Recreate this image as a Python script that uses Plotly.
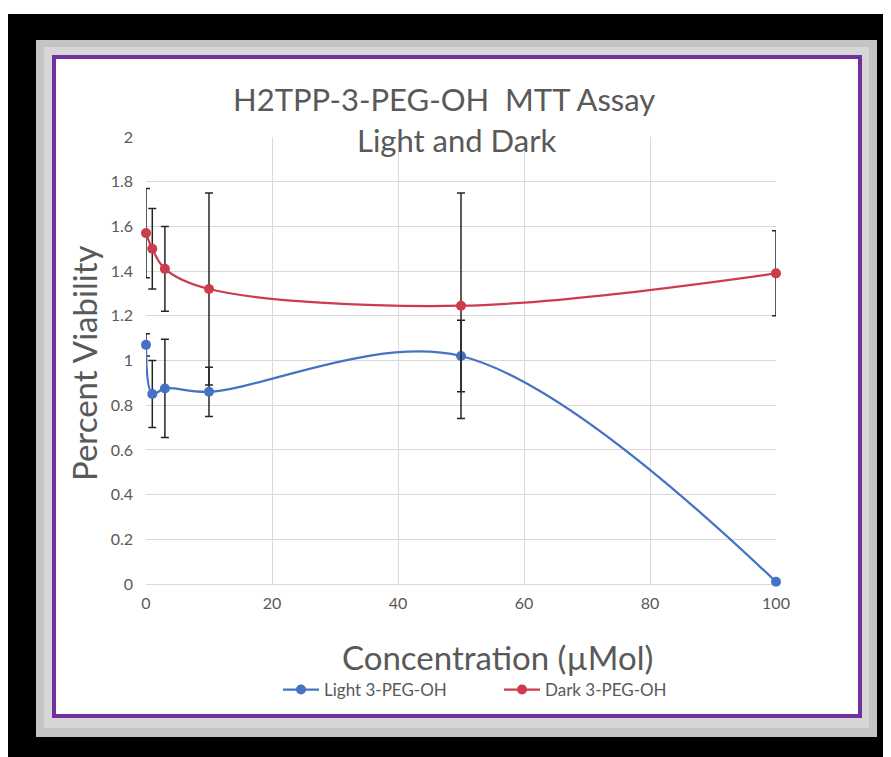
import plotly.graph_objects as go

conc = [0, 1, 3, 10, 50, 100]
light = [1.07, 0.85, 0.875, 0.86, 1.02, 0.01]
light_err = [0.05, 0.15, 0.22, 0.11, 0.16, 0.0]
dark = [1.57, 1.50, 1.41, 1.32, 1.245, 1.39]
dark_err = [0.20, 0.18, 0.19, 0.43, 0.505, 0.19]
x_ticks = [0, 20, 40, 60, 80, 100]
y_ticks = [0, 0.2, 0.4, 0.6, 0.8, 1, 1.2, 1.4, 1.6, 1.8, 2]

OFF = 8  # page body margin
W, H = 891 - OFF, 757 - OFF
L, R, T, B = 146 - OFF, 776 - OFF, 137 - OFF, 584 - OFF
pw, ph = R - L, B - T

def px(x):
    return (x - OFF - L) / pw

def py(y):
    return (B - (y - OFF)) / ph

FONT = "Lato, 'Open Sans', sans-serif"
GREY = "#595959"

fig = go.Figure()
fig.add_trace(go.Scatter(
    x=conc, y=light, name="Light 3-PEG-OH", mode="lines+markers", cliponaxis=False,
    line=dict(color="#4472C4", width=2.25, shape="spline", smoothing=1.0),
    marker=dict(color="#4472C4", size=10),
    error_y=dict(type="data", array=light_err, color="#262626", thickness=1.5, width=4),
))
fig.add_trace(go.Scatter(
    x=conc, y=dark, name="Dark 3-PEG-OH", mode="lines+markers", cliponaxis=False,
    line=dict(color="#CC3B4E", width=2.25, shape="spline", smoothing=1.0),
    marker=dict(color="#CC3B4E", size=10),
    error_y=dict(type="data", array=dark_err, color="#262626", thickness=1.5, width=4),
))

shapes = [
    dict(type="rect", xref="paper", yref="paper", x0=px(0), x1=px(900), y0=py(0), y1=py(14),
         fillcolor="white", line=dict(width=0), layer="below"),
    dict(type="rect", xref="paper", yref="paper", x0=px(36), x1=px(877), y0=py(40), y1=py(737),
         fillcolor="#c4c4c4", line=dict(width=0), layer="below"),
    dict(type="rect", xref="paper", yref="paper", x0=px(44), x1=px(869), y0=py(47), y1=py(728),
         fillcolor="#d6d6d6", line=dict(width=0), layer="below"),
    dict(type="rect", xref="paper", yref="paper", x0=px(54), x1=px(860), y0=py(57), y1=py(716),
         fillcolor="white", line=dict(color="#7030A0", width=4), layer="below"),
]

annotations = [
    dict(text="H2TPP-3-PEG-OH  MTT Assay", x=px(444), y=py(99), xref="paper", yref="paper",
         showarrow=False, font=dict(family=FONT, size=31, color=GREY), xanchor="center", yanchor="middle"),
    dict(text="Light and Dark", x=px(456), y=py(140), xref="paper", yref="paper",
         showarrow=False, font=dict(family=FONT, size=31, color=GREY), xanchor="center", yanchor="middle"),
    dict(text="Percent Viability", x=px(84), y=py(364), xref="paper", yref="paper", textangle=-90,
         showarrow=False, font=dict(family=FONT, size=33, color=GREY), xanchor="center", yanchor="middle"),
    dict(text="Concentration (µMol)", x=px(497), y=py(657), xref="paper", yref="paper",
         showarrow=False, font=dict(family=FONT, size=33, color=GREY), xanchor="center", yanchor="middle"),
]

fig.update_layout(
    width=W, height=H,
    margin=dict(l=L, r=W - R, t=T, b=H - B),
    paper_bgcolor="black",
    plot_bgcolor="rgba(0,0,0,0)",
    shapes=shapes,
    annotations=annotations,
    showlegend=True,
    legend=dict(orientation="h", x=px(278), y=py(690), xanchor="left", yanchor="middle",
                font=dict(family=FONT, size=17, color=GREY), bgcolor="rgba(0,0,0,0)",
                itemwidth=36, entrywidth=170, entrywidthmode="pixels", tracegroupgap=0),
    font=dict(family=FONT, color=GREY),
)
fig.update_xaxes(range=[0, 100], tickvals=x_ticks, ticktext=[str(v) for v in x_ticks],
                 showgrid=True, gridcolor="#d9d9d9", gridwidth=1, zeroline=False,
                 showline=False, ticks="", tickfont=dict(family=FONT, size=16, color=GREY),
                 ticklabelstandoff=8)
fig.update_yaxes(range=[0, 2], tickvals=y_ticks, ticktext=[f"{v:g}" for v in y_ticks],
                 showgrid=True, gridcolor="#d9d9d9", gridwidth=1, zeroline=True,
                 zerolinecolor="#d9d9d9", zerolinewidth=1,
                 showline=False, ticks="", tickfont=dict(family=FONT, size=16, color=GREY),
                 ticklabelstandoff=12)

fig.write_html("out.html")
